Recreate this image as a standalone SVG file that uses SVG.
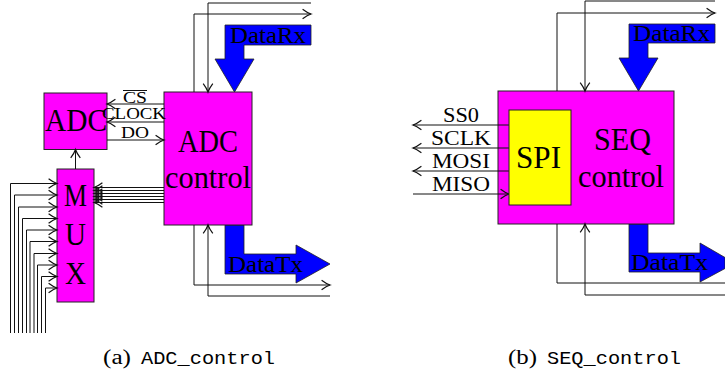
<svg xmlns="http://www.w3.org/2000/svg" width="725" height="373" viewBox="0 0 725 373">
<style>
text{font-family:"Liberation Serif","Times New Roman",serif;fill:#000;text-anchor:start}
.box{stroke:#222;stroke-width:1}
.m{fill:#f0f}.y{fill:#ff0}.b{fill:#00f;stroke:#222;stroke-width:.8}
.big{font-size:31px}.lab{font-size:23px}.sig{font-size:20px}.sm{font-size:17px}
.cap{font-size:20px}
.mono{font-family:"Liberation Mono","Courier New",monospace;font-size:19px}
.c{fill:none;stroke:#111;stroke-width:1}
.a{marker-end:url(#arr)}
</style>
<defs>
<marker id="arr" markerUnits="userSpaceOnUse" markerWidth="12" markerHeight="12" refX="8" refY="5" orient="auto" viewBox="0 0 10 10">
<path d="M1,1 Q5,4 8,5 Q5,6 1,9" fill="none" stroke="#111" stroke-width="1"/>
</marker>
</defs>

<g id="adc-datarx"><path class="b" d="M225,25H311V45H244V59H254L234.500,92L215,59H225Z"/><text class="lab" x="230" y="43" textLength="76" lengthAdjust="spacingAndGlyphs">DataRx</text></g>
<g id="adc-datatx"><path class="b" d="M225,225H244V254H296V245L330,264L296,283V274H225Z"/><text class="lab" x="228" y="272" textLength="75" lengthAdjust="spacingAndGlyphs">DataTx</text></g>
<g id="seq-datarx"><path class="b" d="M629,24H715V43H648V58H658L638.500,91L619,58H629Z"/><text class="lab" x="633" y="41" textLength="77" lengthAdjust="spacingAndGlyphs">DataRx</text></g>
<g id="seq-datatx"><path class="b" d="M629,224H648V253H700V243L725,257.500V268.500L700,282V272H629Z"/><text class="lab" x="631" y="270" textLength="77" lengthAdjust="spacingAndGlyphs">DataTx</text></g>

<g id="adc"><rect class="box m" x="44" y="93" width="63" height="56.500"/><text class="big" x="45" y="131" textLength="62" lengthAdjust="spacingAndGlyphs">ADC</text></g>
<g id="adc-control"><rect class="box m" x="164" y="92" width="88" height="133"/><text class="big" x="178" y="152" textLength="60" lengthAdjust="spacingAndGlyphs">ADC</text><text class="big" x="165" y="188" textLength="86" lengthAdjust="spacingAndGlyphs">control</text></g>
<g id="mux"><rect class="box m" x="57" y="169" width="37" height="133"/><text class="big" x="64" y="206" textLength="23" lengthAdjust="spacingAndGlyphs">M</text><text class="big" x="65" y="245" textLength="21" lengthAdjust="spacingAndGlyphs">U</text><text class="big" x="65" y="284" textLength="21" lengthAdjust="spacingAndGlyphs">X</text></g>
<g id="seq-control"><rect class="box m" x="498" y="91" width="176" height="133"/><text class="big" x="594" y="150" textLength="57" lengthAdjust="spacingAndGlyphs">SEQ</text><text class="big" x="578" y="187" textLength="86" lengthAdjust="spacingAndGlyphs">control</text></g>
<g id="connectors">
<path class="c" d="M208,3H311"/>
<path class="c a" d="M208,3V92"/>
<path class="c a" d="M194,92V14H311"/>
<path class="c a" d="M194,225V285H330"/>
<path class="c" d="M208,296H330"/>
<path class="c a" d="M208,296V225"/>
<path class="c" d="M585,1H715"/>
<path class="c a" d="M585,1V91"/>
<path class="c a" d="M557,91V13H715"/>
<path class="c" d="M557,224V283H725"/>
<path class="c a" d="M585,295V224"/>
<path class="c" d="M585,295H725"/>
<path class="c a" d="M164,104H107"/>
<path class="c a" d="M164,122H107"/>
<path class="c a" d="M107,140H164"/>
<path class="c a" d="M75.500,169V149.500"/>
<path class="c a" d="M164,187.500H94"/>
<path class="c a" d="M164,190.500H94"/>
<path class="c a" d="M164,193.500H94"/>
<path class="c a" d="M164,196.500H94"/>
<path class="c a" d="M164,199.500H94"/>
<path class="c a" d="M164,202.500H94"/>
<path class="c a" d="M10.500,333V183.500H57"/>
<path class="c a" d="M14.500,333V195H57"/>
<path class="c a" d="M18.500,333V207H57"/>
<path class="c a" d="M22.500,333V218.500H57"/>
<path class="c a" d="M26.500,333V230H57"/>
<path class="c a" d="M30,333V241.500H57"/>
<path class="c a" d="M34,333V253.500H57"/>
<path class="c a" d="M37.500,333V265H57"/>
<path class="c a" d="M41.500,333V276.500H57"/>
<path class="c a" d="M45.500,333V288H57"/>
<path class="c a" d="M509,125H413"/>
<path class="c a" d="M509,148H413"/>
<path class="c a" d="M509,171H413"/>
<path class="c a" d="M413,194H509"/>
</g>
<g id="spi"><rect class="box y" x="509" y="110" width="62" height="95"/><text class="big" x="516" y="168" textLength="45" lengthAdjust="spacingAndGlyphs">SPI</text></g>
<g id="labels">
<text class="sm" x="123" y="103" textLength="24" lengthAdjust="spacingAndGlyphs">CS</text><path d="M123,90.500H147" stroke="#111" fill="none"/>
<text class="sm" x="102" y="119" textLength="64" lengthAdjust="spacingAndGlyphs">CLOCK</text>
<text class="sm" x="121" y="138" textLength="28" lengthAdjust="spacingAndGlyphs">DO</text>
<text class="sig" x="443" y="122" textLength="36" lengthAdjust="spacingAndGlyphs">SS0</text>
<text class="sig" x="431" y="145" textLength="60" lengthAdjust="spacingAndGlyphs">SCLK</text>
<text class="sig" x="432" y="168" textLength="58" lengthAdjust="spacingAndGlyphs">MOSI</text>
<text class="sig" x="432" y="191" textLength="58" lengthAdjust="spacingAndGlyphs">MISO</text>
</g>
<g id="captions">
<text class="cap" x="103" y="364" textLength="28" lengthAdjust="spacingAndGlyphs">(a)</text><text class="mono" x="141" y="364" textLength="134" lengthAdjust="spacingAndGlyphs">ADC_control</text>
<text class="cap" x="508" y="364" textLength="29" lengthAdjust="spacingAndGlyphs">(b)</text><text class="mono" x="547" y="364" textLength="134" lengthAdjust="spacingAndGlyphs">SEQ_control</text>
</g>
</svg>
